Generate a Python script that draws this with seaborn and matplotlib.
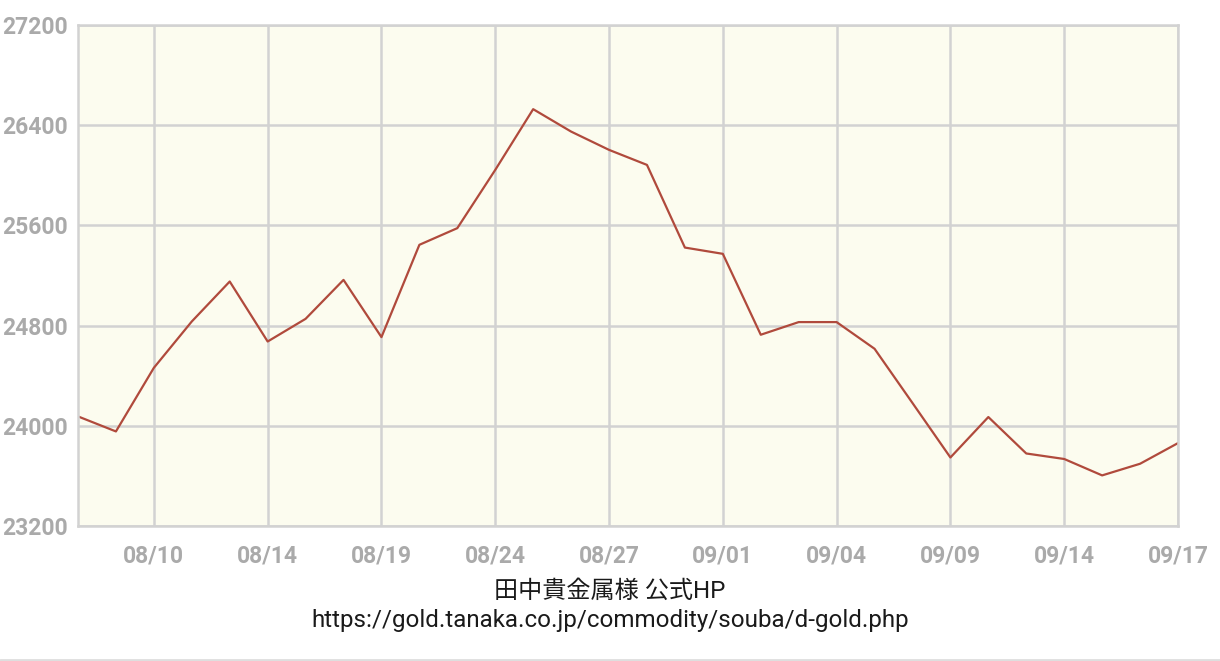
import matplotlib
matplotlib.use("Agg")
import matplotlib.pyplot as plt
from matplotlib.lines import Line2D
import seaborn as sns
import pandas as pd

# daily prices (yen)
dates = ["08/06", "08/07", "08/10", "08/12", "08/13", "08/14", "08/17", "08/18",
         "08/19", "08/20", "08/21", "08/24", "08/25", "08/26", "08/27", "08/28",
         "08/31", "09/01", "09/02", "09/03", "09/04", "09/07", "09/08", "09/09",
         "09/10", "09/11", "09/14", "09/15", "09/16", "09/17"]
prices = [24075, 23955, 24463, 24833, 25152, 24673, 24854, 25165, 24708, 25445,
          25578, 26043, 26528, 26349, 26203, 26083, 25423, 25373, 24727, 24828,
          24828, 24615, 24182, 23747, 24070, 23779, 23735, 23604, 23697, 23862]
shown_labels = ["08/10", "08/14", "08/19", "08/24", "08/27",
                "09/01", "09/04", "09/09", "09/14", "09/17"]
y_ticks = [23200, 24000, 24800, 25600, 26400, 27200]

df = pd.DataFrame({"date": dates, "price": prices})

sns.set_style("white")
plt.rcParams["font.family"] = ["Roboto", "Noto Sans CJK JP", "DejaVu Sans"]

fig = plt.figure(figsize=(12.2, 6.61), dpi=100)
ax = fig.add_axes([78 / 1220, 135 / 661, 1100 / 1220, 501 / 661])
ax.set_facecolor("#fcfcef")

grid_c = "#d2d2d2"
sns.lineplot(data=df, x="date", y="price", ax=ax, color="#b04a3c",
             linewidth=1.6, sort=False)

ax.set_xlim(0, len(dates) - 1)
ax.set_ylim(y_ticks[0], y_ticks[-1])
ax.set_yticks(y_ticks)
ax.set_yticklabels([str(v) for v in y_ticks])
pos = [dates.index(d) for d in shown_labels]
ax.set_xticks(pos)
ax.set_xticklabels(shown_labels)

ax.grid(True, color=grid_c, linewidth=1.8)
ax.set_axisbelow(True)
for s in ax.spines.values():
    s.set_color(grid_c)
    s.set_linewidth(1.8)
ax.tick_params(length=0, labelcolor="#aaaaaa", labelsize=16.5)
ax.tick_params(axis="x", pad=13)
ax.tick_params(axis="y", pad=7)
for lab in ax.get_xticklabels() + ax.get_yticklabels():
    lab.set_fontweight("bold")
ax.set_xlabel("")
ax.set_ylabel("")

fig.text(0.5, 1 - 591 / 661, "田中貴金属様 公式HP", ha="center", va="center",
         fontsize=17.4, color="#1a1a1a")
fig.text(0.5, 1 - 621 / 661, "https://gold.tanaka.co.jp/commodity/souba/d-gold.php",
         ha="center", va="center", fontsize=17.4, color="#1a1a1a")
fig.add_artist(Line2D([0, 1], [1 - 659.5 / 661] * 2, color="#dedede",
                      linewidth=2, transform=fig.transFigure))

fig.savefig("out.png", dpi=100)
